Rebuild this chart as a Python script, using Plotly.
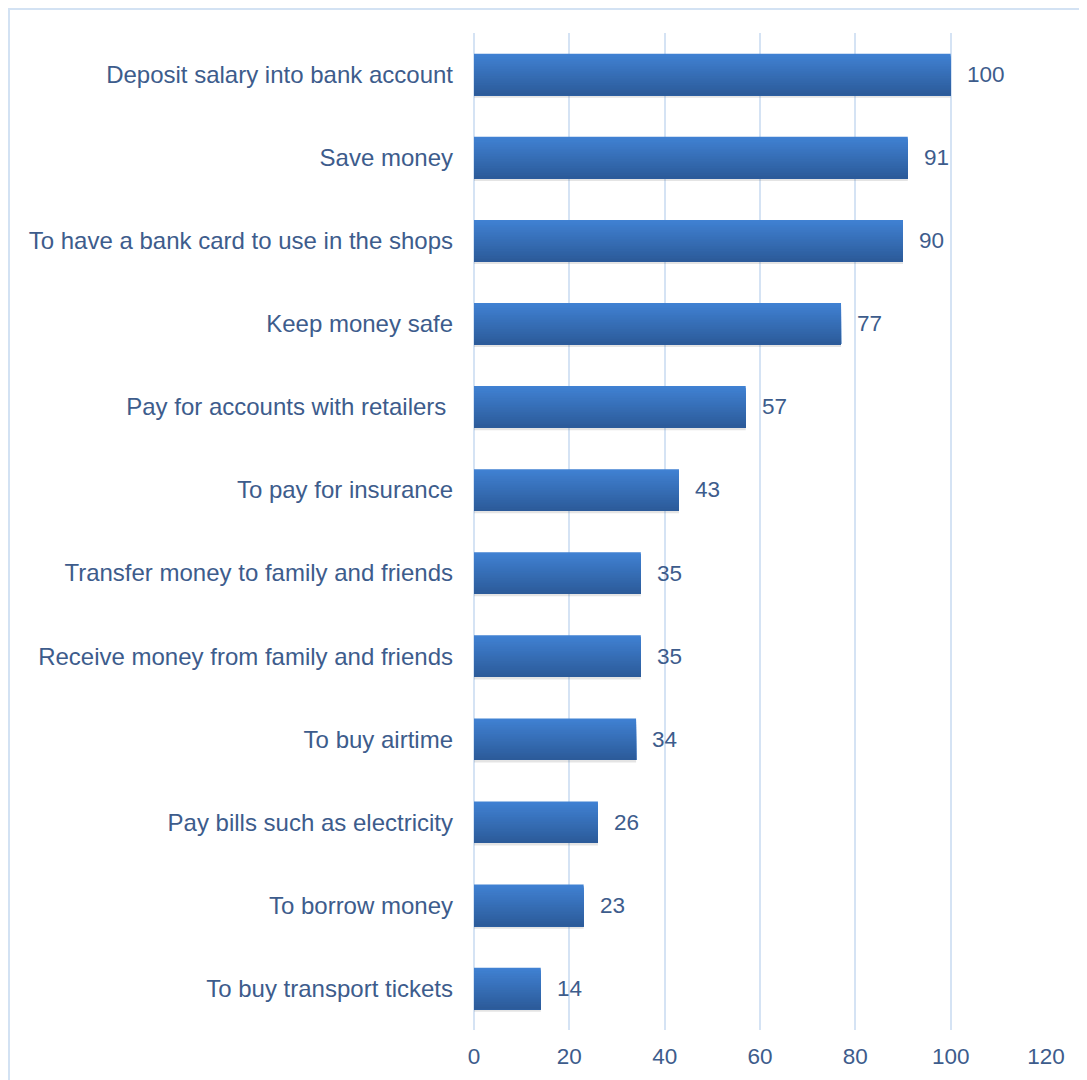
import plotly.graph_objects as go

categories = [
    "Deposit salary into bank account",
    "Save money",
    "To have a bank card to use in the shops",
    "Keep money safe",
    "Pay for accounts with retailers ",
    "To pay for insurance",
    "Transfer money to family and friends",
    "Receive money from family and friends",
    "To buy airtime",
    "Pay bills such as electricity",
    "To borrow money",
    "To buy transport tickets",
]
values = [100, 91, 90, 77, 57, 43, 35, 35, 34, 26, 23, 14]
x_ticks = [0, 20, 40, 60, 80, 100, 120]

# page body has an 8px margin, so the figure is 8px smaller/shifted
W, H = 1079, 1072
ML, MR, MT, MB = 466, 41, 25, 50
TEXT = "#3d5c8c"
GRID = "#d5e3f4"
FONT = "Liberation Sans, Arial, sans-serif"
FS = 22.5
FS_CAT = 24

fig = go.Figure()

# soft shadow
fig.add_trace(go.Bar(
    y=categories, x=values, orientation="h",
    width=0.5, offset=-0.25 + 0.03,
    marker=dict(color="rgba(90,90,90,0.16)", line=dict(width=0)),
    hoverinfo="skip", showlegend=False,
))

# gradient bands (top light -> bottom dark), each band runs to the bottom edge
top_rgb = (64, 129, 210)
bot_rgb = (44, 91, 154)
N = 24
bw = 0.5 / N
for i in range(N):
    t = i / (N - 1)
    c = tuple(round(top_rgb[k] + (bot_rgb[k] - top_rgb[k]) * t) for k in range(3))
    fig.add_trace(go.Bar(
        y=categories, x=values, orientation="h",
        width=0.5 - i * bw, offset=-0.25 + i * bw,
        marker=dict(color=f"rgb{c}", line=dict(width=0)),
        hoverinfo="skip", showlegend=False,
    ))

for cat, v in zip(categories, values):
    fig.add_annotation(
        x=v, y=cat, text=str(v), showarrow=False,
        xanchor="left", xshift=14,
        font=dict(family=FONT, size=FS, color=TEXT),
    )

# chart border (light blue frame)
pw = W - ML - MR
ph = H - MT - MB
fig.add_shape(
    type="rect", xref="paper", yref="paper",
    x0=(1 - ML) / pw, x1=(W + 10 - ML) / pw,
    y0=-(H + 10 - MT - ph) / ph, y1=1 + (MT - 1) / ph,
    line=dict(color="#d3e2f3", width=2), fillcolor="rgba(0,0,0,0)",
    layer="below",
)

fig.update_layout(
    width=W, height=H,
    margin=dict(l=ML, r=MR, t=MT, b=MB),
    barmode="overlay",
    plot_bgcolor="white", paper_bgcolor="white",
    font=dict(family=FONT, size=FS, color=TEXT),
    showlegend=False,
    xaxis=dict(
        range=[0, 120], tickvals=x_ticks, ticktext=[str(t) for t in x_ticks],
        showgrid=True, gridcolor=GRID, gridwidth=1.5,
        zeroline=True, zerolinecolor=GRID, zerolinewidth=1.5,
        showline=False, ticks="", ticklabelstandoff=10,
        tickfont=dict(family=FONT, size=FS, color=TEXT),
        fixedrange=True,
    ),
    yaxis=dict(
        categoryorder="array", categoryarray=categories,
        autorange="reversed",
        showgrid=False, zeroline=False, showline=False, ticks="",
        ticklabelstandoff=20,
        tickfont=dict(family=FONT, size=FS_CAT, color=TEXT),
        fixedrange=True,
    ),
)

fig.write_html("out.html")
